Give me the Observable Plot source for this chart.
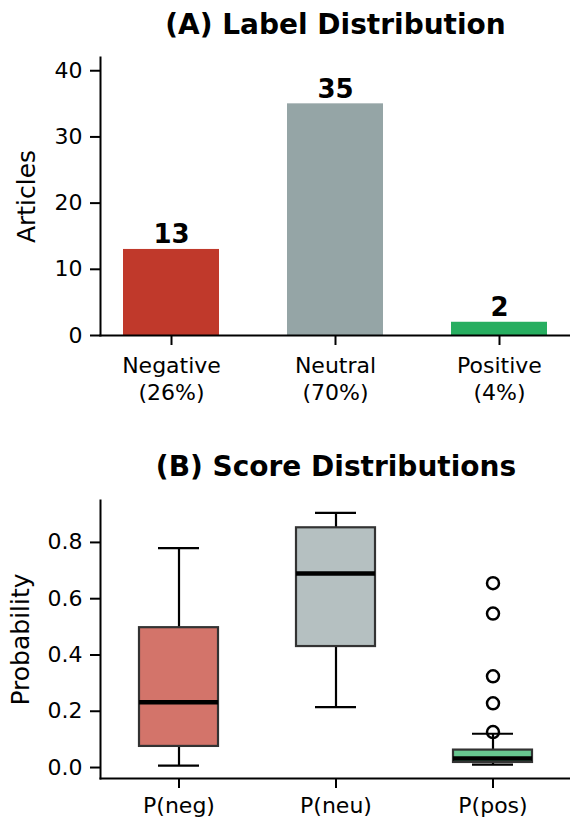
<!DOCTYPE html>
<html>
<head>
<meta charset="utf-8">
<script src="https://cdn.jsdelivr.net/npm/d3@7"></script>
<script src="https://cdn.jsdelivr.net/npm/@observablehq/plot@0.6"></script>
<style>
  html, body { margin: 0; padding: 0; background: #fff; }
  #wrap { position: relative; width: 570px; height: 823px; }
  #top, #bottom { position: absolute; left: 0; }
  #top { top: 0; }
  #bottom { top: 410px; }
  svg { font-family: "DejaVu Sans", sans-serif; overflow: visible; }
</style>
</head>
<body>
<div id="wrap"><div id="top"></div><div id="bottom"></div></div>
<script>
// ---- Panel A data ----
const labels = ["Negative", "Neutral", "Positive"];
const counts = [13, 35, 2];
const percents = ["26%", "70%", "4%"];
const barColors = ["#c0392b", "#95a5a6", "#27ae60"];
const yTicksA = [0, 10, 20, 30, 40];

// ---- Panel B data (box summaries) ----
const scoreNames = ["P(neg)", "P(neu)", "P(pos)"];
const whiskerLow = [0.007, 0.215, 0.010];
const q1 = [0.075, 0.430, 0.018];
const median = [0.232, 0.690, 0.032];
const q3 = [0.497, 0.852, 0.062];
const whiskerHigh = [0.780, 0.905, 0.120];
const outlierName = ["P(pos)", "P(pos)", "P(pos)", "P(pos)", "P(pos)"];
const outlierValue = [0.655, 0.547, 0.324, 0.228, 0.126];
const yTicksB = [0.0, 0.2, 0.4, 0.6, 0.8];

const font = "DejaVu Sans, sans-serif";

// ---- Panel A ----
const barData = labels.map((l, i) => ({label: l, count: counts[i], pct: percents[i], color: barColors[i]}));
const tickLabel = new Map(labels.map((l, i) => [l, l + "\n(" + percents[i] + ")"]));

const chartA = Plot.plot({
  width: 570,
  height: 410,
  marginLeft: 100,
  marginRight: 0,
  marginTop: 57,
  marginBottom: 75,
  style: {fontFamily: font, fontSize: "22px", color: "#000", background: "#fff"},
  x: {domain: labels, paddingInner: 0.416, paddingOuter: 0.137, label: null},
  y: {domain: [0, 42], label: null},
  marks: [
    Plot.barY(barData, {x: "label", y: "count", fill: "color"}),
    Plot.text(barData, {x: "label", y: "count", text: d => String(d.count), lineAnchor: "bottom", dy: -6, fontSize: 26, fontWeight: "bold", fill: "#000"}),
    Plot.axisY({ticks: yTicksA, tickSize: 10, tickPadding: 8, strokeWidth: 2, fontSize: 22, label: null}),
    Plot.axisX({tickSize: 10, tickPadding: 9, strokeWidth: 2, fontSize: 22, lineHeight: 1.2, tickFormat: d => tickLabel.get(d), label: null}),
    Plot.frame({anchor: "left", strokeWidth: 2, stroke: "#000"}),
    Plot.frame({anchor: "bottom", strokeWidth: 2, stroke: "#000"}),
    Plot.text(["Articles"], {frameAnchor: "left", dx: -74, rotate: -90, textAnchor: "middle", fontSize: 25, fill: "#000", lineAnchor: "middle"}),
    Plot.text(["(A) Label Distribution"], {frameAnchor: "top", dy: -32, fontSize: 28, fontWeight: "bold", fill: "#000", lineAnchor: "middle"})
  ]
});
document.getElementById("top").appendChild(chartA);

// ---- Panel B ----
const boxData = scoreNames.map((n, i) => ({
  name: n, lo: whiskerLow[i], q1: q1[i], med: median[i], q3: q3[i], hi: whiskerHigh[i], color: barColors[i]
}));
const outliers = outlierName.map((n, i) => ({name: n, v: outlierValue[i]}));

const chartB = Plot.plot({
  width: 570,
  height: 413,
  marginLeft: 100,
  marginRight: -1,
  marginTop: 90,
  marginBottom: 45,
  style: {fontFamily: font, fontSize: "22px", color: "#000", background: "#fff"},
  x: {domain: scoreNames, paddingInner: 0, paddingOuter: 0, label: null},
  y: {domain: [-0.039, 0.949], label: null},
  marks: [
    Plot.ruleX(boxData, {x: "name", y1: "lo", y2: "q1", stroke: "#000", strokeWidth: 2.2}),
    Plot.ruleX(boxData, {x: "name", y1: "q3", y2: "hi", stroke: "#000", strokeWidth: 2.2}),
    Plot.tickY(boxData, {x: "name", y: "lo", stroke: "#000", strokeWidth: 2.2, insetLeft: 58, insetRight: 58}),
    Plot.tickY(boxData, {x: "name", y: "hi", stroke: "#000", strokeWidth: 2.2, insetLeft: 58, insetRight: 58}),
    Plot.barY(boxData, {x: "name", y1: "q1", y2: "q3", fill: "color", fillOpacity: 0.7, stroke: "#333", strokeWidth: 2.2, insetLeft: 39, insetRight: 39}),
    Plot.tickY(boxData, {x: "name", y: "med", stroke: "#000", strokeWidth: 4.5, insetLeft: 39, insetRight: 39}),
    Plot.dot(outliers, {x: "name", y: "v", r: 6, stroke: "#000", strokeWidth: 2.5, fill: "none"}),
    Plot.axisY({ticks: yTicksB, tickFormat: d3.format(".1f"), tickSize: 10, tickPadding: 8, strokeWidth: 2, fontSize: 22, label: null}),
    Plot.axisX({tickSize: 10, tickPadding: 9, strokeWidth: 2, fontSize: 22, label: null}),
    Plot.frame({anchor: "left", strokeWidth: 2, stroke: "#000"}),
    Plot.frame({anchor: "bottom", strokeWidth: 2, stroke: "#000"}),
    Plot.text(["Probability"], {frameAnchor: "left", dx: -80, rotate: -90, textAnchor: "middle", fontSize: 25, fill: "#000", lineAnchor: "middle"}),
    Plot.text(["(B) Score Distributions"], {frameAnchor: "top", dy: -33, fontSize: 28, fontWeight: "bold", fill: "#000", lineAnchor: "middle"})
  ]
});
document.getElementById("bottom").appendChild(chartB);
</script>
</body>
</html>
